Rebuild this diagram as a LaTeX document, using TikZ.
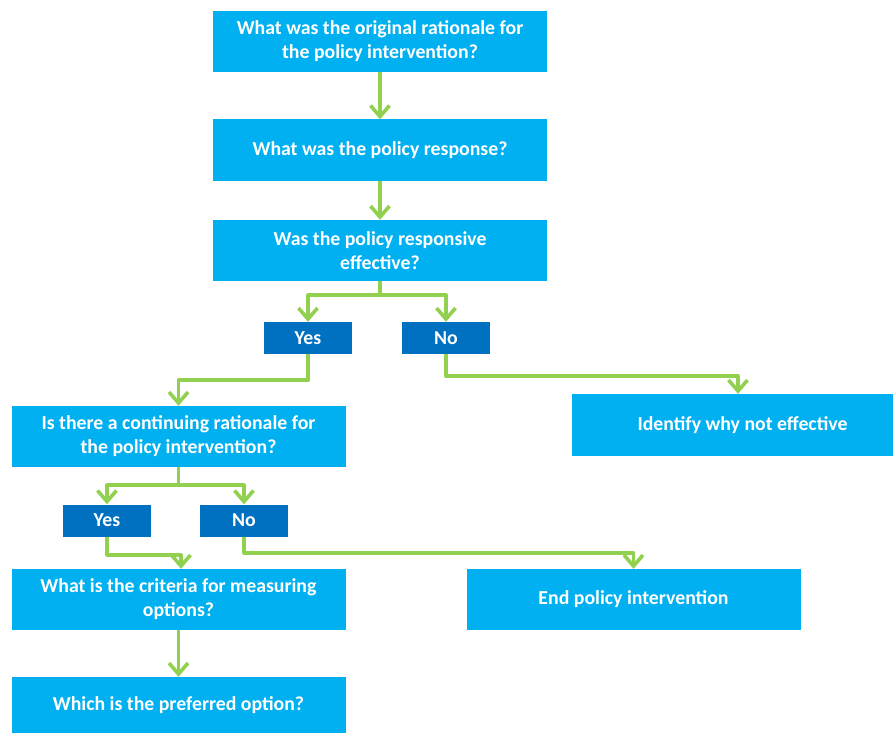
\documentclass[tikz,border=0pt]{standalone}
\usepackage{fontspec}
\setmainfont{Carlito}
\usetikzlibrary{arrows.meta}
\definecolor{qblue}{HTML}{00B0F0}
\definecolor{ablue}{HTML}{0070C0}
\definecolor{flowgreen}{HTML}{92D050}
\tikzset{
  qbox/.style={
    fill=qblue,
    draw=none,
    minimum width=334pt,
    minimum height=61pt,
    inner sep=0pt,
    text=white,
    font=\fontsize{19.8}{24}\selectfont\bfseries,
    align=center
  },
  abox/.style={
    fill=ablue,
    draw=none,
    minimum width=88pt,
    minimum height=32pt,
    inner sep=0pt,
    text=white,
    font=\fontsize{19.8}{24}\selectfont\bfseries
  },
  flow/.style={
    draw=flowgreen,
    line width=3.6pt,
    line join=round,
    -{Straight Barb[length=11pt,width=19pt,line width=3.6pt]}
  },
}
\begin{document}
\begin{tikzpicture}[x=1pt,y=-1pt]
  \useasboundingbox (0,0) rectangle (894,733);
  % questions
  \node[qbox] (Q1) at (380,41.5) {What was the original rationale for\\the policy intervention?};
  \node[qbox] (Q2) at (380,150) {What was the policy response?};
  \node[qbox] (Q3) at (380,250.5) {Was the policy responsive\\effective?};
  \node[abox] (Yes1) at (308,338) {Yes};
  \node[abox] (No1) at (446,338) {No};
  \node[qbox] (Q4) at (178.5,436.5) {Is there a continuing rationale for\\the policy intervention?};
  \node[qbox, minimum width=321pt, minimum height=62pt] (Why) at (732.5,425) {\hspace*{20pt}Identify why not effective};
  \node[abox] (Yes2) at (107,520.5) {Yes};
  \node[abox] (No2) at (244,520.5) {No};
  \node[qbox] (Q5) at (178.5,599.5) {What is the criteria for measuring\\options?};
  \node[qbox] (End) at (633.5,599.5) {End policy intervention};
  \node[qbox, minimum height=56pt] (Q6) at (178.5,705) {Which is the preferred option?};
  % connectors
  \draw[flow] (Q1) -- (Q2);
  \draw[flow] (Q2) -- (Q3);
  \draw[flow] (Q3.south) -- ++(0,14) -| (Yes1.north);
  \draw[flow] (Q3.south) -- ++(0,14) -| (No1.north);
  \draw[flow] (Yes1.south) -- ++(0,26) -| (Q4.north);
  \draw[flow] (No1.south) -- ++(0,22) -| ([xshift=5.5pt]Why.north);
  \draw[flow] (Q4.south) -- ++(0,18) -| (Yes2.north);
  \draw[flow] (Q4.south) -- ++(0,18) -| (No2.north);
  \draw[flow] (Yes2.south) -- ++(0,18) -| ([xshift=2.5pt]Q5.north);
  \draw[flow] (No2.south) -- ++(0,16) -| (End.north);
  \draw[flow] (Q5) -- (Q6);
\end{tikzpicture}
\end{document}
